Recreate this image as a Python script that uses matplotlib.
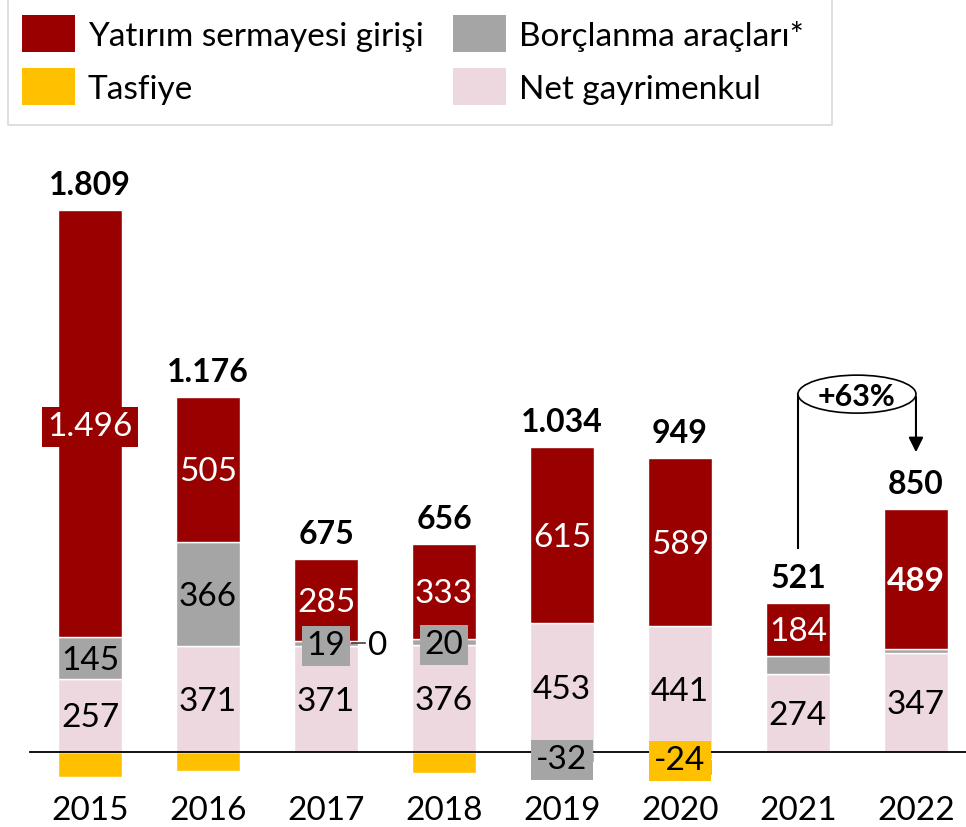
import matplotlib
matplotlib.use("Agg")
import matplotlib.pyplot as plt
from matplotlib.patches import Rectangle, Ellipse

plt.rcParams['font.family'] = ['Lato', 'DejaVu Sans']

# ----------------------------- #
# Veriler
# ----------------------------- #
yillar = ['2015', '2016', '2017', '2018', '2019', '2020', '2021', '2022']
net_gayrimenkul = [257, 371, 371, 376, 453, 441, 274, 347]
borclanma = [145, 366, 19, 20, -32, -57, 63, 15]
yatirim = [1496, 505, 285, 333, 615, 589, 184, 489]
tasfiye = [-89, -66, 0, -73, -2, -24, 0, -1]
toplam = [1809, 1176, 675, 656, 1034, 949, 521, 850]

# hangi etiketler gorunuyor
etiket_borc = [True, True, True, True, True, False, False, False]
etiket_tasfiye = [False, False, True, False, False, True, False, False]

KIRMIZI = '#990000'
GRI = '#A5A5A5'
SARI = '#FFC000'
PEMBE = '#EED8DF'
VA = 'center_baseline'


def fmt(v):
    return f"{v:,}".replace(',', '.')


fig = plt.figure(figsize=(9.66, 8.27), dpi=100)
ax = fig.add_axes([0, 0, 1, 1])
ax.axis('off')
ax.set_xlim(-0.763, 7.424)
ax.set_ylim(-262.6, 2633)

x = list(range(len(yillar)))
w = 0.54

# stack: pozitifler yukari, negatifler asagi (once tasfiye)
pos_alt = [0] * len(x)
neg_alt = [0] * len(x)
seg = {}
for ad, vals, renk in [('tas', tasfiye, SARI), ('net', net_gayrimenkul, PEMBE),
                       ('borc', borclanma, GRI), ('yat', yatirim, KIRMIZI)]:
    altlar = []
    for i, v in enumerate(vals):
        if v >= 0:
            altlar.append(pos_alt[i])
            pos_alt[i] += v
        else:
            altlar.append(neg_alt[i])
            neg_alt[i] += v
    ax.bar(x, vals, w, bottom=altlar, color=renk, edgecolor='white', linewidth=1, zorder=2)
    seg[ad] = [b + v / 2 for b, v in zip(altlar, vals)]

ax.plot([-0.51, 7.424], [0, 0], color='black', lw=1.3, zorder=3)

fs = 24
for i in x:
    ax.text(i, seg['net'][i], fmt(net_gayrimenkul[i]), ha='center', va=VA, fontsize=fs, zorder=4)
    # yatirim sermayesi
    kutu = dict(boxstyle='square,pad=0.15', fc=KIRMIZI, ec='none') if i == 0 else None
    ax.text(i, seg['yat'][i], fmt(yatirim[i]), ha='center', va=VA, fontsize=fs,
            color='white', fontweight='bold' if i == 7 else 'normal', bbox=kutu, zorder=4)
    if etiket_borc[i]:
        kutu = dict(boxstyle='square,pad=0.15', fc=GRI, ec='none') if abs(borclanma[i]) < 100 else None
        ax.text(i, seg['borc'][i], fmt(borclanma[i]), ha='center', va=VA, fontsize=fs,
                bbox=kutu, zorder=5)
    if etiket_tasfiye[i]:
        if tasfiye[i] == 0:
            ax.plot([i + 0.22, i + 0.33], [seg['borc'][i], seg['borc'][i]], color='#404040', lw=1.2, zorder=4)
            ax.text(i + 0.44, seg['borc'][i], fmt(tasfiye[i]), ha='center', va=VA, fontsize=fs, zorder=5)
        else:
            ax.text(i, seg['tas'][i] - 10, fmt(tasfiye[i]), ha='center', va=VA, fontsize=fs,
                    bbox=dict(boxstyle='square,pad=0.15', fc=SARI, ec='none'), zorder=5)
    # toplam
    ax.text(i, pos_alt[i] + 95, fmt(toplam[i]), ha='center', va=VA, fontsize=23,
            fontweight='bold', zorder=4)
    ax.text(i, -196, yillar[i], ha='center', va=VA, fontsize=fs)

# +63% buyume
buyume = toplam[7] / toplam[6] - 1
ey = 1253
ax.add_patch(Ellipse((6.5, ey), 1.0, 133, fc='white', ec='black', lw=1.2, zorder=4))
ax.text(6.5, ey, f"+{buyume * 100:.0f}%", ha='center', va=VA, fontsize=22,
        fontweight='bold', zorder=5)
ax.plot([6, 6], [ey, toplam[6] + 193], color='black', lw=1.5, zorder=3)
ax.annotate('', xy=(7, toplam[7] + 190), xytext=(7, ey),
            arrowprops=dict(arrowstyle='-|>', color='black', lw=1.5, mutation_scale=22), zorder=3)

# legend kutusu
W, H = 966, 827
fig.patches.append(Rectangle((8 / W, 1 - 125 / H), 824 / W, 126 / H, transform=fig.transFigure,
                             fc='white', ec='#D9D9D9', lw=1.2))
leg = [('Yatırım sermayesi girişi', KIRMIZI, 22, 15), ('Borçlanma araçları*', GRI, 453, 15),
       ('Tasfiye', SARI, 22, 68), ('Net gayrimenkul', PEMBE, 453, 68)]
for ad, renk, px, py in leg:
    fig.patches.append(Rectangle((px / W, 1 - (py + 37) / H), 53 / W, 37 / H,
                                 transform=fig.transFigure, fc=renk, ec='none'))
    fig.text((px + 66) / W, 1 - (py + 22) / H, ad, ha='left', va='center', fontsize=24)

fig.savefig('out.png', dpi=100)
